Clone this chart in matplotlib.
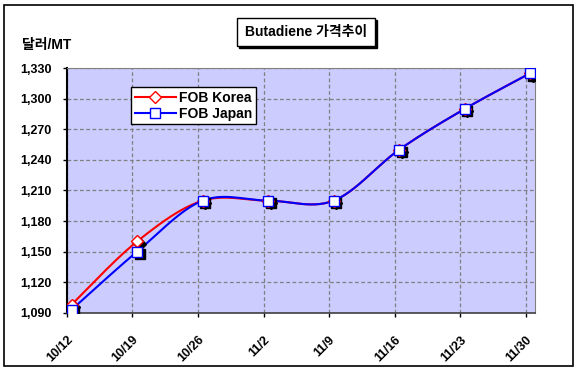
import numpy as np
import matplotlib.pyplot as plt
import matplotlib.transforms as mtransforms
from matplotlib.patches import Rectangle

plt.rcParams['font.family'] = ['Liberation Sans', 'Noto Sans CJK KR', 'DejaVu Sans']
plt.rcParams['font.weight'] = 'bold'

# 데이터
dates = ['10/12', '10/19', '10/26', '11/2', '11/9', '11/16', '11/23', '11/30']
fob_korea = [1098, 1160, 1200, 1200, 1200, 1250, 1290, 1325]
fob_japan = [1093, 1150, 1200, 1200, 1200, 1250, 1290, 1325]
y_ticks = [1090, 1120, 1150, 1180, 1210, 1240, 1270, 1300, 1330]


def smooth(xs, ys, n=30):
    """Excel 스타일 곡선 (Catmull-Rom)"""
    xs = np.asarray(xs, float)
    ys = np.asarray(ys, float)
    px = np.concatenate([[xs[0]], xs, [xs[-1]]])
    py = np.concatenate([[ys[0]], ys, [ys[-1]]])
    out_x, out_y = [], []
    t = np.linspace(0, 1, n)
    for i in range(1, len(px) - 2):
        for p, out in ((px, out_x), (py, out_y)):
            p0, p1, p2, p3 = p[i - 1], p[i], p[i + 1], p[i + 2]
            m1 = (p2 - p0) / 2
            m2 = (p3 - p1) / 2
            h00 = 2 * t**3 - 3 * t**2 + 1
            h10 = t**3 - 2 * t**2 + t
            h01 = -2 * t**3 + 3 * t**2
            h11 = t**3 - t**2
            out.extend(h00 * p1 + h10 * m1 + h01 * p2 + h11 * m2)
    return np.array(out_x), np.array(out_y)


fig = plt.figure(figsize=(5.77, 3.72), dpi=100)
ax = fig.add_axes([0.116, 0.159, 0.811, 0.658])
ax.set_facecolor('#CCCCFF')

x = np.arange(len(dates))
day_off = 0.07  # 날짜축: 눈금선은 주 시작, 점은 약간 오른쪽

# 곡선
kx, ky = smooth(x, fob_korea)
jx, jy = smooth(x, fob_japan)
ax.plot(kx, ky, color='red', lw=1.5, zorder=3)
ax.plot(jx, jy, color='#0000FF', lw=1.5, zorder=4)

# 마커 그림자
shadow = mtransforms.offset_copy(ax.transData, fig=fig, x=1.8, y=-1.8, units='points')
ax.plot(x, fob_korea, ls='none', marker='D', ms=6, color='black', transform=shadow, zorder=5)
ax.plot(x, fob_japan, ls='none', marker='s', ms=7.5, color='black', transform=shadow, zorder=5)

# 마커
ax.plot(x, fob_korea, ls='none', marker='D', ms=6, mfc='white', mec='red', mew=1, zorder=6)
ax.plot(x, fob_japan, ls='none', marker='s', ms=7.5, mfc='white', mec='#0000FF', mew=1, zorder=7)

# 범례용
ax.plot([], [], color='red', lw=1.5, marker='D', ms=6, mfc='white', mec='red', label='FOB Korea')
ax.plot([], [], color='#0000FF', lw=1.5, marker='s', ms=7, mfc='white', mec='#0000FF', label='FOB Japan')

ax.set_xlim(-day_off, 7.07)
ax.set_ylim(1090, 1330)
ax.set_yticks(y_ticks)
ax.set_yticklabels([f'{v:,}' for v in y_ticks], fontsize=9, fontweight='bold')
ax.set_xticks(x - day_off)
ax.set_xticklabels(dates, rotation=45, ha='right', rotation_mode='anchor', fontsize=9, fontweight='bold')
ax.tick_params(axis='y', length=3, width=1, pad=8)
ax.tick_params(axis='x', length=3, width=1, pad=12)

ax.grid(True, color='#808080', ls=(0, (3, 2)), lw=0.9)
ax.set_axisbelow(True)

for side in ('top', 'right'):
    ax.spines[side].set_color('#808080')
ax.spines['left'].set_color('black')
ax.spines['left'].set_linewidth(1.5)
ax.spines['bottom'].set_color('#404040')
ax.spines['bottom'].set_linewidth(1.2)

leg = ax.legend(loc='upper left', bbox_to_anchor=(0.137, 0.922), borderaxespad=0,
                fancybox=False, edgecolor='black', framealpha=1, handlelength=3.0,
                handletextpad=0.2, labelspacing=0.15, borderpad=0.25,
                prop={'size': 10, 'weight': 'bold'})
leg.get_frame().set_linewidth(1)
leg.set_zorder(10)

# 제목 상자
fig.patches.append(Rectangle((239 / 577, 1 - 48 / 372), 138 / 577, 28 / 372,
                             transform=fig.transFigure, facecolor='black', edgecolor='black'))
fig.patches.append(Rectangle((237 / 577, 1 - 46 / 372), 138 / 577, 28 / 372,
                             transform=fig.transFigure, facecolor='white', edgecolor='black', lw=1))
fig.text(306 / 577, 1 - 32 / 372, 'Butadiene 가격추이', ha='center', va='center',
         fontsize=10, fontweight='bold')

fig.text(22 / 577, 1 - 45 / 372, '달러/MT', ha='left', va='center', fontsize=10, fontweight='bold')

# 바깥 테두리
fig.patches.append(Rectangle((4 / 577, 6 / 372), 569 / 577, 361 / 372,
                             transform=fig.transFigure, fill=False, edgecolor='black', lw=1.2))

fig.savefig('out.png', dpi=100)
